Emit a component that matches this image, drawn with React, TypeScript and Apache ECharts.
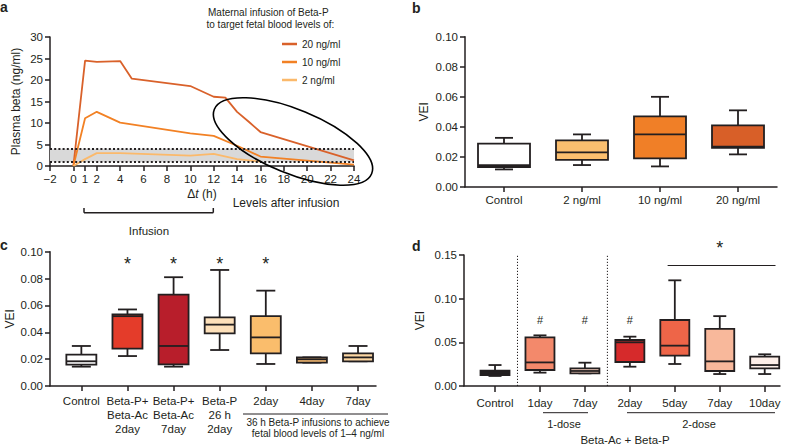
import React, { useEffect, useRef } from "react";
import * as echarts from "echarts";

const FONT = "'Liberation Sans', Arial, Helvetica, sans-serif";
const INK = "#231f20";

// ---------- Panel a: plasma beta over time ----------
const hourTicks = [-2, 0, 1, 2, 4, 6, 8, 10, 12, 14, 16, 18, 20, 22, 24];
const lineNames = ["20 ng/ml", "10 ng/ml", "2 ng/ml"];
const lineColors = ["#d9612a", "#f28124", "#fbb96b"];
const hours20 = [0, 1, 2, 4, 5, 10, 12, 13, 14, 15, 16, 24];
const beta20 = [0, 24.5, 24.2, 24.4, 20.3, 18.6, 16.1, 15.9, 12.6, 10.3, 7.9, 1.3];
const hours10 = [0, 1, 2, 4, 10, 12, 14, 16, 24];
const beta10 = [0, 11.1, 12.6, 10.1, 7.6, 7.0, 4.7, 2.2, 0.3];
const hours2 = [0, 1, 2, 4, 10, 12, 14, 16];
const beta2 = [0, 1.6, 3.0, 3.0, 2.4, 2.8, 1.6, 1.0];
const targetBand = [1, 4];

// ---------- Panel b ----------
const catsB = ["Control", "2 ng/ml", "10 ng/ml", "20 ng/ml"];
const minB = [0.0117, 0.0146, 0.0137, 0.0217];
const q1B = [0.0133, 0.018, 0.019, 0.026];
const medB = [0.0145, 0.023, 0.035, 0.0268];
const q3B = [0.0288, 0.031, 0.047, 0.041];
const maxB = [0.0327, 0.035, 0.06, 0.051];
const colorsB = ["#ffffff", "#fbbf6f", "#f07f27", "#d85f28"];

// ---------- Panel c ----------
const catsC = [
  "Control",
  "Beta-P+\nBeta-Ac\n2day",
  "Beta-P+\nBeta-Ac\n7day",
  "Beta-P\n26 h\n2day",
  "2day",
  "4day",
  "7day",
];
const minC = [0.0144, 0.0223, 0.0144, 0.0268, 0.0164, 0.0174, 0.0184];
const q1C = [0.0159, 0.0278, 0.0161, 0.0392, 0.0243, 0.0174, 0.0184];
const medC = [0.0184, 0.052, 0.0298, 0.0457, 0.0362, 0.0199, 0.0213];
const q3C = [0.0233, 0.0533, 0.068, 0.0511, 0.052, 0.0213, 0.0243];
const maxC = [0.0298, 0.057, 0.081, 0.0864, 0.071, 0.0213, 0.0298];
const colorsC = ["#ffffff", "#e43c2a", "#b81e2b", "#fde0ba", "#fabd6c", "#f6bb72", "#fcd7a3"];
const starsC = [1, 2, 3, 4];
const starLevelC = 0.091;

// ---------- Panel d ----------
const catsD = ["Control", "1day", "7day", "2day", "5day", "7day", "10day"];
const minD = [0.0115, 0.0153, 0.0145, 0.0221, 0.0252, 0.0137, 0.0137];
const q1D = [0.0126, 0.0183, 0.0145, 0.0275, 0.0347, 0.0172, 0.0202];
const medD = [0.0153, 0.027, 0.0172, 0.05, 0.0462, 0.0282, 0.024];
const q3D = [0.0176, 0.0557, 0.0202, 0.0527, 0.0756, 0.0653, 0.0336];
const maxD = [0.024, 0.058, 0.0267, 0.0565, 0.121, 0.08, 0.0363];
const colorsD = ["#231f20", "#f3896b", "#fcd5c3", "#d62a2b", "#ee6548", "#f8b89b", "#fdeee8"];
const hashD = [1, 2, 3];
const hashLevelD = 0.0756;
const separatorsD = [0.5, 2.5];
const sigLineD = [3.84, 0.138, 6.24, 0.138];
const sigStarD = [5, 0.158];

const boxData = (mins: number[], q1: number[], med: number[], q3: number[], max: number[]) =>
  mins.map((_, i) => [i, mins[i], q1[i], med[i], q3[i], max[i]]);

function boxRenderer(colors: string[], boxW: number, capW: number, lw: number) {
  return (params: any, api: any) => {
    const x = api.value(0);
    const pMin = api.coord([x, api.value(1)]);
    const pQ1 = api.coord([x, api.value(2)]);
    const pMed = api.coord([x, api.value(3)]);
    const pQ3 = api.coord([x, api.value(4)]);
    const pMax = api.coord([x, api.value(5)]);
    const cx = pMed[0];
    const st = () => ({ stroke: INK, lineWidth: lw, fill: "none" });
    return {
      type: "group",
      children: [
        { type: "line", shape: { x1: cx, y1: pQ3[1], x2: cx, y2: pMax[1] }, style: st() },
        { type: "line", shape: { x1: cx, y1: pQ1[1], x2: cx, y2: pMin[1] }, style: st() },
        { type: "line", shape: { x1: cx - capW / 2, y1: pMax[1], x2: cx + capW / 2, y2: pMax[1] }, style: st() },
        { type: "line", shape: { x1: cx - capW / 2, y1: pMin[1], x2: cx + capW / 2, y2: pMin[1] }, style: st() },
        {
          type: "rect",
          shape: { x: cx - boxW / 2, y: pQ3[1], width: boxW, height: pQ1[1] - pQ3[1] },
          style: { fill: colors[params.dataIndex], stroke: INK, lineWidth: lw },
        },
        { type: "line", shape: { x1: cx - boxW / 2, y1: pMed[1], x2: cx + boxW / 2, y2: pMed[1] }, style: st() },
      ],
    };
  };
}

function textRenderer(text: string, fontSize: number) {
  return (_params: any, api: any) => {
    const p = api.coord([api.value(0), api.value(1)]);
    return {
      type: "text",
      x: p[0],
      y: p[1],
      style: { text, fontSize, fontFamily: FONT, fill: INK, align: "center", verticalAlign: "middle" },
    };
  };
}

function segRenderer(lw: number, dash?: number[]) {
  return (_params: any, api: any) => {
    const p1 = api.coord([api.value(0), api.value(1)]);
    const p2 = api.coord([api.value(2), api.value(3)]);
    return {
      type: "line",
      shape: { x1: p1[0], y1: p1[1], x2: p2[0], y2: p2[1] },
      style: { stroke: INK, lineWidth: lw, lineDash: dash || null },
    };
  };
}

const axisLineStyle = { show: true, onZero: false, lineStyle: { color: INK, width: 1.5 } };
const tickStyle = { lineStyle: { color: INK, width: 1.5 } };
const labelBase = { color: INK, fontFamily: FONT, fontSize: 11.5 };

function catXAxis(grid: number, min: number, max: number, cats: string[], margin: number, tickLen: number) {
  const idx = cats.map((_, i) => i);
  return {
    type: "value",
    gridIndex: grid,
    min,
    max,
    splitLine: { show: false },
    axisLine: axisLineStyle,
    axisTick: { show: true, customValues: idx, length: tickLen, ...tickStyle },
    axisLabel: {
      ...labelBase,
      customValues: idx,
      margin,
      lineHeight: 14,
      formatter: (v: number) => cats[Math.round(v)] ?? "",
    },
  };
}

function veiYAxis(grid: number, max: number, interval: number, nameGap: number) {
  return {
    type: "value",
    gridIndex: grid,
    min: 0,
    max,
    interval,
    name: "VEI",
    nameLocation: "middle",
    nameRotate: 90,
    nameGap,
    nameTextStyle: { ...labelBase, fontSize: 12 },
    splitLine: { show: false },
    axisLine: axisLineStyle,
    axisTick: { show: true, length: 5, ...tickStyle },
    axisLabel: { ...labelBase, margin: 7, formatter: (v: number) => v.toFixed(2) },
  };
}

const gtext = (text: string, x: number, y: number, size: number, align = "center", weight = "normal") => ({
  type: "text",
  x,
  y,
  style: { text, fontSize: size, fontFamily: FONT, fill: INK, align, verticalAlign: "middle", fontWeight: weight },
});
const gline = (x1: number, y1: number, x2: number, y2: number, lw = 1.3) => ({
  type: "line",
  shape: { x1, y1, x2, y2 },
  style: { stroke: INK, lineWidth: lw },
});

const option: any = {
  animation: false,
  backgroundColor: "#ffffff",
  textStyle: { fontFamily: FONT },
  grid: [
    { left: 50, top: 37, width: 304, height: 129 },
    { left: 465, top: 36.7, width: 312, height: 150.3 },
    { left: 50, top: 251.7, width: 326, height: 134.3 },
    { left: 464, top: 255, width: 316, height: 131 },
  ],
  legend: {
    data: lineNames,
    left: 277,
    top: 33,
    orient: "vertical",
    icon: "rect",
    itemWidth: 15,
    itemHeight: 2.5,
    itemGap: 6,
    selectedMode: false,
    textStyle: { color: INK, fontFamily: FONT, fontSize: 10, lineHeight: 12 },
  },
  xAxis: [
    {
      type: "value",
      gridIndex: 0,
      min: -2,
      max: 24,
      splitLine: { show: false },
      axisLine: axisLineStyle,
      axisTick: { show: true, customValues: hourTicks, length: 5, ...tickStyle },
      axisLabel: {
        ...labelBase,
        customValues: hourTicks,
        margin: 7,
        formatter: (v: number) => (v < 0 ? "\u2212" + Math.abs(v) : String(v)),
      },
      name: "{d|\u0394}{t|t} (h)",
      nameLocation: "middle",
      nameGap: 22,
      nameTextStyle: {
        ...labelBase,
        fontSize: 12,
        rich: {
          d: { fontSize: 12, fontFamily: FONT, color: INK },
          t: { fontSize: 12, fontFamily: FONT, color: INK, fontStyle: "italic" },
        },
      },
    },
    catXAxis(1, -0.5, 3.5, catsB, 6, 5),
    catXAxis(2, -0.68, 6.39, catsC, 8, 5),
    catXAxis(3, -0.69, 6.34, catsD, 10, 6),
  ],
  yAxis: [
    {
      type: "value",
      gridIndex: 0,
      min: 0,
      max: 30,
      interval: 5,
      name: "Plasma beta (ng/ml)",
      nameLocation: "middle",
      nameRotate: 90,
      nameGap: 28,
      nameTextStyle: { ...labelBase, fontSize: 12 },
      splitLine: { show: false },
      axisLine: axisLineStyle,
      axisTick: { show: true, length: 5, ...tickStyle },
      axisLabel: { ...labelBase, margin: 7 },
    },
    veiYAxis(1, 0.1, 0.02, 35),
    veiYAxis(2, 0.1, 0.02, 34),
    veiYAxis(3, 0.15, 0.05, 38),
  ],
  series: [
    {
      name: lineNames[0],
      type: "line",
      xAxisIndex: 0,
      yAxisIndex: 0,
      symbol: "none",
      color: lineColors[0],
      lineStyle: { width: 1.8, color: lineColors[0] },
      data: hours20.map((h, i) => [h, beta20[i]]),
      z: 4,
      markArea: {
        silent: true,
        itemStyle: { color: "#d9d9d9" },
        data: [[{ xAxis: -2, yAxis: targetBand[0] }, { xAxis: 24, yAxis: targetBand[1] }]],
      },
      markLine: {
        silent: true,
        symbol: "none",
        label: { show: false },
        lineStyle: { color: INK, type: [2, 2.2], width: 2 },
        data: [{ yAxis: targetBand[0] }, { yAxis: targetBand[1] }],
      },
    },
    {
      name: lineNames[1],
      type: "line",
      xAxisIndex: 0,
      yAxisIndex: 0,
      symbol: "none",
      color: lineColors[1],
      lineStyle: { width: 1.8, color: lineColors[1] },
      data: hours10.map((h, i) => [h, beta10[i]]),
      z: 4,
    },
    {
      name: lineNames[2],
      type: "line",
      xAxisIndex: 0,
      yAxisIndex: 0,
      symbol: "none",
      color: lineColors[2],
      lineStyle: { width: 1.8, color: lineColors[2] },
      data: hours2.map((h, i) => [h, beta2[i]]),
      z: 4,
    },
    {
      type: "custom",
      xAxisIndex: 1,
      yAxisIndex: 1,
      clip: false,
      renderItem: boxRenderer(colorsB, 52, 18, 1.8),
      encode: { x: 0, y: [1, 2, 3, 4, 5] },
      data: boxData(minB, q1B, medB, q3B, maxB),
    },
    {
      type: "custom",
      xAxisIndex: 2,
      yAxisIndex: 2,
      clip: false,
      renderItem: boxRenderer(colorsC, 30, 19, 1.8),
      encode: { x: 0, y: [1, 2, 3, 4, 5] },
      data: boxData(minC, q1C, medC, q3C, maxC),
    },
    {
      type: "custom",
      xAxisIndex: 2,
      yAxisIndex: 2,
      clip: false,
      renderItem: textRenderer("*", 18),
      encode: { x: 0, y: 1 },
      data: starsC.map((x) => [x, starLevelC]),
    },
    {
      type: "custom",
      xAxisIndex: 3,
      yAxisIndex: 3,
      clip: false,
      renderItem: segRenderer(1, [1.2, 1.8]),
      encode: { x: [0, 2], y: [1, 3] },
      data: separatorsD.map((x) => [x, 0, x, 0.15]),
      z: 1,
    },
    {
      type: "custom",
      xAxisIndex: 3,
      yAxisIndex: 3,
      clip: false,
      renderItem: boxRenderer(colorsD, 29, 13, 1.8),
      encode: { x: 0, y: [1, 2, 3, 4, 5] },
      data: boxData(minD, q1D, medD, q3D, maxD),
    },
    {
      type: "custom",
      xAxisIndex: 3,
      yAxisIndex: 3,
      clip: false,
      renderItem: textRenderer("#", 11),
      encode: { x: 0, y: 1 },
      data: hashD.map((x) => [x, hashLevelD]),
    },
    {
      type: "custom",
      xAxisIndex: 3,
      yAxisIndex: 3,
      clip: false,
      renderItem: segRenderer(1.2),
      encode: { x: [0, 2], y: [1, 3] },
      data: [sigLineD],
    },
    {
      type: "custom",
      xAxisIndex: 3,
      yAxisIndex: 3,
      clip: false,
      renderItem: textRenderer("*", 18),
      encode: { x: 0, y: 1 },
      data: [sigStarD],
    },
  ],
  graphic: [
    gtext("a", 0, 7, 14, "left", "bold"),
    gtext("b", 412, 8, 14, "left", "bold"),
    gtext("c", 0, 245, 14, "left", "bold"),
    gtext("d", 412, 246, 14, "left", "bold"),
    gtext("Maternal infusion of Beta-P", 208, 12.5, 10, "left"),
    gtext("to target fetal blood levels of:", 206.5, 24.5, 10, "left"),
    gtext("Levels after infusion", 286, 203, 12),
    gtext("Infusion", 149, 230.5, 11.5),
    gline(84, 212.7, 213.3, 212.7, 1.5),
    gline(84, 212.7, 84, 208, 1.5),
    gline(213.3, 212.7, 213.3, 208, 1.5),
    {
      type: "ellipse",
      x: 293,
      y: 141.5,
      rotation: -0.39,
      shape: { cx: 0, cy: 0, rx: 85, ry: 32 },
      style: { fill: "none", stroke: "#000", lineWidth: 1.6 },
      z: 100,
    },
    gline(243, 414, 388, 414, 1),
    gtext("36 h Beta-P infusions to achieve", 318, 422, 10),
    gtext("fetal blood levels of 1\u20134 ng/ml", 318, 433, 10),
    gline(543, 412.7, 588, 412.7, 1),
    gline(627, 412.7, 775, 412.7, 1),
    gtext("1-dose", 564, 423.5, 11),
    gtext("2-dose", 699, 423.5, 11),
    gtext("Beta-Ac + Beta-P", 625, 440, 11.5),
  ],
};

export default function App() {
  const ref = useRef<HTMLDivElement>(null);
  useEffect(() => {
    if (!ref.current) return;
    const chart = echarts.init(ref.current, null, { renderer: "svg" });
    chart.setOption(option);
    return () => chart.dispose();
  }, []);
  return (
    <div
      ref={ref}
      style={{ position: "absolute", left: 0, top: 0, width: 796, height: 445, background: "#fff" }}
    />
  );
}
